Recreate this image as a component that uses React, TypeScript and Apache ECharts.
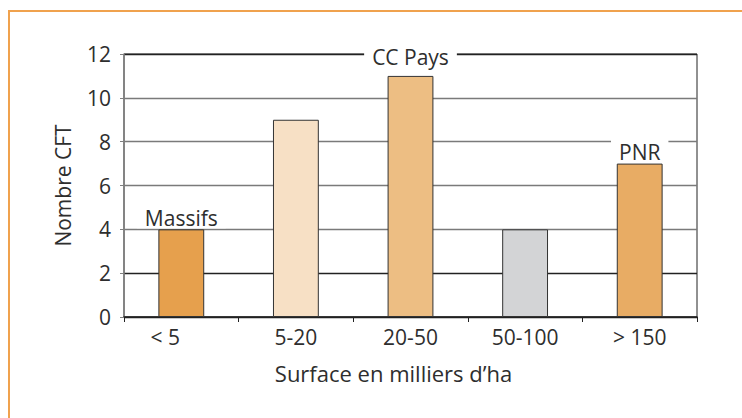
import React, { useEffect, useRef } from "react";
import * as echarts from "echarts";

const categories = ["< 5", "5-20", "20-50", "50-100", "> 150"];
const values = [4, 9, 11, 4, 7];
const barColors = ["#e6a04d", "#f7e0c5", "#edbe83", "#d3d4d6", "#e8ac64"];
const barLabels = ["Massifs", "", "CC Pays", "", "PNR"];
const labelDistances = [1, 0, 8, 0, 1];
const yTicks = { min: 0, max: 12, interval: 2 };
const xName = "Surface en milliers d\u2019ha";
const yName = "Nombre CFT";

const FONT = "'Open Sans', sans-serif";
const TEXT = "#2e2e2e";

export default function App() {
  const ref = useRef<HTMLDivElement>(null);
  useEffect(() => {
    if (!ref.current) return;
    const chart = echarts.init(ref.current, null, { renderer: "svg" });
    chart.setOption({
      animation: false,
      backgroundColor: "#ffffff",
      textStyle: { fontFamily: FONT },
      graphic: [
        {
          type: "rect",
          shape: { x: 9, y: 11, width: 800, height: 500 },
          style: { fill: "none", stroke: "#f0a24e", lineWidth: 2 },
          silent: true,
        },
      ],
      grid: {
        left: 124,
        right: 45,
        top: 54,
        bottom: 101,
        show: true,
        borderColor: "#222",
        borderWidth: 1,
        backgroundColor: "transparent",
      },
      xAxis: {
        type: "category",
        data: categories.map((c, i) =>
          i === 0 ? { value: c, textStyle: { padding: [0, 32, 0, 0] } } : c
        ),
        boundaryGap: true,
        name: xName,
        nameLocation: "middle",
        nameGap: 45,
        nameTextStyle: { fontSize: 22, color: TEXT, fontFamily: FONT, padding: [0, 34, 0, 0] },
        axisLine: { lineStyle: { color: "#222", width: 1.5 } },
        axisTick: { show: true, alignWithLabel: false, length: 5, lineStyle: { color: "#222" } },
        axisLabel: { fontSize: 21, color: TEXT, margin: 9, fontFamily: FONT },
      },
      yAxis: {
        type: "value",
        min: yTicks.min,
        max: yTicks.max,
        interval: yTicks.interval,
        name: yName,
        nameLocation: "middle",
        nameRotate: 90,
        nameGap: 51,
        nameTextStyle: { fontSize: 21, color: TEXT, fontFamily: FONT },
        axisLine: { show: true, lineStyle: { color: "#808080", width: 1.5 } },
        axisTick: { show: true, length: 4, lineStyle: { color: "#808080" } },
        axisLabel: { fontSize: 21, color: TEXT, margin: 13, fontFamily: FONT },
        splitLine: {
          show: true,
          lineStyle: {
            color: ["#222", "#222", "#7a7a7a", "#7a7a7a", "#7a7a7a", "#7a7a7a", "#222"],
            width: 1.3,
          },
        },
      },
      series: [
        {
          type: "bar",
          barWidth: "40%",
          data: values.map((v, i) => ({
            value: v,
            itemStyle: { color: barColors[i], borderColor: "#333", borderWidth: 1 },
            label: {
              show: barLabels[i] !== "",
              formatter: barLabels[i],
              position: "top",
              distance: labelDistances[i],
              fontSize: 21,
              color: TEXT,
              fontFamily: FONT,
              backgroundColor: "#ffffff",
              padding: [3, 8, 0, 8],
            },
          })),
        },
      ],
    });
    return () => chart.dispose();
  }, []);
  return (
    <div
      ref={ref}
      style={{ position: "fixed", left: 0, top: 0, width: 742, height: 418 }}
    />
  );
}
